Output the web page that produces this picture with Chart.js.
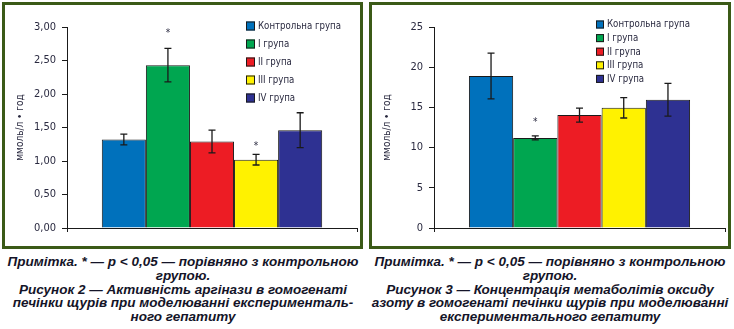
<!DOCTYPE html>
<html>
<head>
<meta charset="utf-8">
<script src="https://cdn.jsdelivr.net/npm/chart.js@4.4.1/dist/chart.umd.min.js"></script>
<style>
  html, body { margin: 0; padding: 0; background: #fff; }
  body { width: 734px; height: 329px; position: relative; overflow: hidden; }
  .panel { position: absolute; top: 2px; height: 247px; border: 3px solid #3b5a17; box-sizing: border-box; }
  .panel canvas { position: absolute; left: 0; top: 0; }
  .caption { position: absolute; top: 255px; width: 366px; text-align: center;
    font-family: 'Liberation Sans', Arial, sans-serif; font-weight: bold; font-style: italic;
    font-size: 13.5px; line-height: 13.8px; color: #141428; }
  .caption div { white-space: nowrap; }
</style>
</head>
<body>
<div class="panel" style="left:2px;width:361px;"><canvas id="chartArg" width="355" height="241"></canvas></div>
<div class="panel" style="left:369px;width:362px;"><canvas id="chartNo" width="356" height="241"></canvas></div>
<div class="caption" style="left:0px;">
  <div>Примітка. * — p &lt; 0,05 — порівняно з контрольною</div>
  <div>групою.</div>
  <div>Рисунок 2 — Активність аргінази в гомогенаті</div>
  <div>печінки щурів при моделюванні експерименталь-</div>
  <div>ного гепатиту</div>
</div>
<div class="caption" style="left:367px;">
  <div>Примітка. * — p &lt; 0,05 — порівняно з контрольною</div>
  <div>групою.</div>
  <div>Рисунок 3 — Концентрація метаболітів оксиду</div>
  <div>азоту в гомогенаті печінки щурів при моделюванні</div>
  <div>експериментального гепатиту</div>
</div>
<script>
// Групи та кольори
const groups = ['Контрольна група', 'I група', 'II група', 'III група', 'IV група'];
const groupColors = ['#0071bc', '#00a650', '#ed1c24', '#fff200', '#2e3192'];

// Рисунок 2 — аргіназа
const argMeans = [1.32, 2.43, 1.29, 1.02, 1.46];
const argErrors = [0.08, 0.25, 0.17, 0.08, 0.26];
const argStars = [null, 2.93, null, 1.25, null];
const argTicks = { min: 0, max: 3, step: 0.5 };

// Рисунок 3 — метаболіти NO
const noMeans = [18.9, 11.2, 14.05, 14.95, 15.95];
const noErrors = [2.85, 0.25, 0.87, 1.27, 2.03];
const noStars = [null, 13.4, null, null, null];
const noTicks = { min: 0, max: 25, step: 5 };

const yTitle = 'ммоль/л • год';
const narrow = "'Liberation Sans Narrow', 'DejaVu Sans Condensed', Arial, sans-serif";
const textColor = '#2a2a40';

// Планки похибок, зірочки та легенда
const extrasPlugin = {
    id: 'extras',
    afterDatasetsDraw(chart, args, opts) {
        const ctx = chart.ctx;
        const y = chart.scales.y;
        ctx.save();
        ctx.strokeStyle = '#1a1a1a';
        ctx.lineWidth = 1.3;
        chart.data.datasets.forEach((ds, i) => {
            const bar = chart.getDatasetMeta(i).data[0];
            const hi = y.getPixelForValue(ds.data[0] + opts.errors[i]);
            const lo = y.getPixelForValue(ds.data[0] - opts.errors[i]);
            ctx.beginPath();
            ctx.moveTo(bar.x, hi); ctx.lineTo(bar.x, lo);
            ctx.moveTo(bar.x - 3.5, hi); ctx.lineTo(bar.x + 3.5, hi);
            ctx.moveTo(bar.x - 3.5, lo); ctx.lineTo(bar.x + 3.5, lo);
            ctx.stroke();
            if (opts.stars[i] !== null) {
                ctx.fillStyle = textColor;
                ctx.font = '10px ' + narrow;
                ctx.textAlign = 'center';
                ctx.textBaseline = 'middle';
                ctx.fillText('*', bar.x, y.getPixelForValue(opts.stars[i]) + 2);
            }
        });
        // легенда
        const L = opts.legend;
        ctx.lineWidth = 1;
        groups.forEach((g, i) => {
            const cy = L.y + i * L.dy;
            ctx.fillStyle = groupColors[i];
            ctx.fillRect(L.x, cy - L.box / 2, L.box, L.box);
            ctx.strokeStyle = '#1a1a1a';
            ctx.strokeRect(L.x + 0.5, cy - L.box / 2 + 0.5, L.box - 1, L.box - 1);
            ctx.save();
            ctx.translate(L.x + L.box + 3, cy);
            ctx.scale(0.87, 1);
            ctx.font = '11px ' + narrow;
            ctx.textAlign = 'left';
            ctx.textBaseline = 'middle';
            ctx.fillStyle = textColor;
            ctx.fillText(g, 0, 0);
            ctx.restore();
        });
        ctx.restore();
    }
};

function makeChart(id, means, errors, stars, ticks, legend, decimals) {
    return new Chart(document.getElementById(id), {
        type: 'bar',
        data: {
            labels: [''],
            datasets: groups.map((g, i) => ({
                label: g,
                data: [means[i]],
                backgroundColor: groupColors[i],
                borderColor: '#1a1a1a',
                borderWidth: 1,
                categoryPercentage: 0.76,
                barPercentage: 1
            }))
        },
        options: {
            responsive: false,
            animation: false,
            layout: { padding: { left: 0, right: 3, top: 22, bottom: 0 } },
            plugins: {
                legend: { display: false },
                tooltip: { enabled: false },
                extras: { errors, stars, legend }
            },
            scales: {
                x: {
                    grid: { display: true, drawOnChartArea: false, offset: true, color: '#1a1a1a', tickLength: 4, lineWidth: 1 },
                    border: { color: '#1a1a1a', width: 1 },
                    ticks: { display: false },
                    afterFit(scale) { scale.height = 18; }
                },
                y: {
                    min: ticks.min,
                    max: ticks.max,
                    ticks: {
                        stepSize: ticks.step,
                        padding: 6,
                        color: textColor,
                        font: { family: narrow, size: 11 },
                        callback: v => v.toFixed(decimals).replace('.', ',')
                    },
                    grid: { drawOnChartArea: false, color: '#1a1a1a', tickLength: 5 },
                    border: { color: '#1a1a1a', width: 1 },
                    title: {
                        display: true,
                        text: yTitle,
                        color: textColor,
                        font: { family: narrow, size: 10 },
                        padding: { top: 9, bottom: 0 }
                    },
                    afterFit(scale) { scale.width = 62; }
                }
            }
        },
        plugins: [extrasPlugin]
    });
}

makeChart('chartArg', argMeans, argErrors, argStars, argTicks,
    { x: 241, y: 21, dy: 18, box: 9 }, 2);
makeChart('chartNo', noMeans, noErrors, noStars, noTicks,
    { x: 224, y: 19.5, dy: 13.6, box: 8 }, 0);
</script>
</body>
</html>
